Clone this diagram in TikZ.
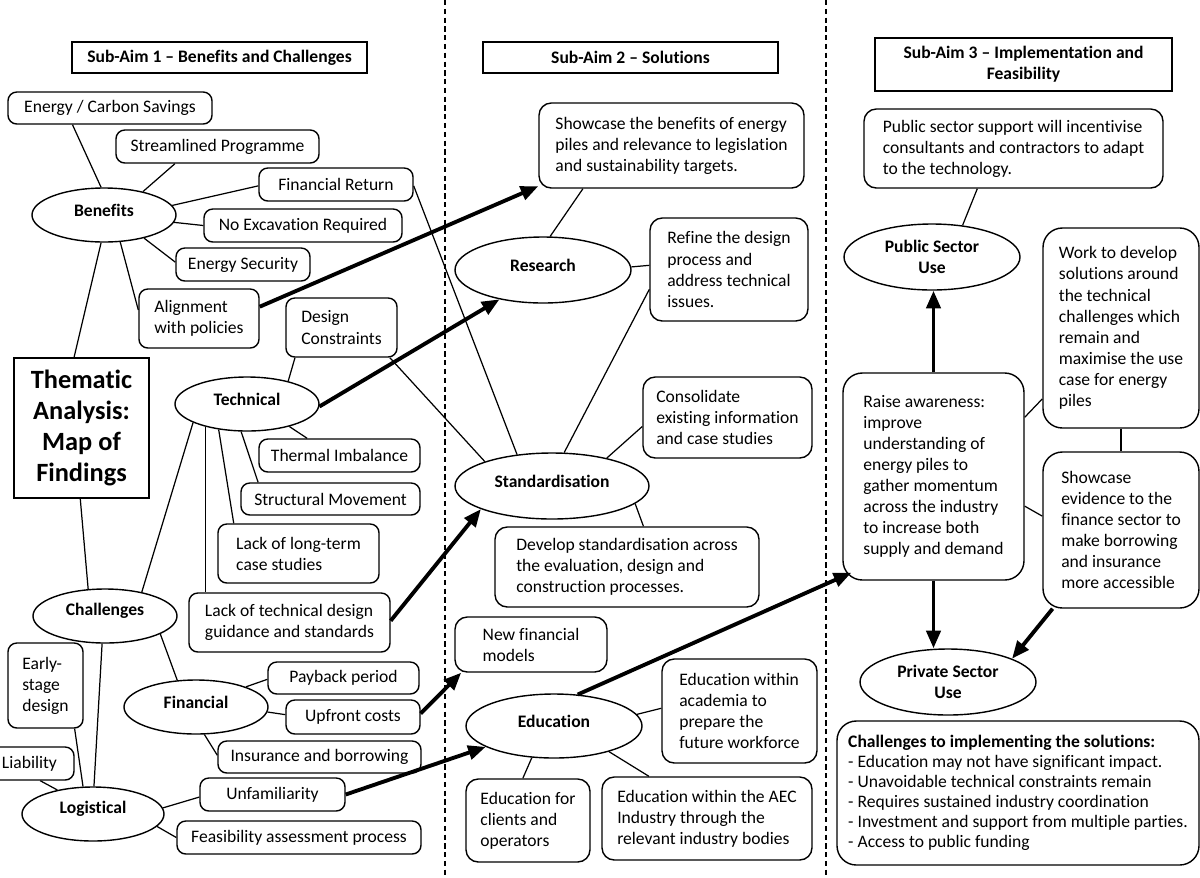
\documentclass[tikz,border=0pt]{standalone}
\usepackage{fontspec}
\setmainfont[Ligatures={NoCommon}]{Carlito}
\usetikzlibrary{shapes.geometric,arrows.meta,calc}
\newcommand{\rbox}[7][]{\node[bx,#1,minimum width={(#5-(#3))*0.02cm},minimum height={(#6-(#4))*0.02cm}] (#2) at ({((#3)+(#5))/2},{((#4)+(#6))/2}) {#7};}
\newcommand{\ovnode}[7][]{\node[ov,#1,minimum width={2*(#5)*0.02cm},minimum height={2*(#6)*0.02cm}] (#2) at (#3,#4) {#7};}
\begin{document}
\begin{tikzpicture}[x=0.02cm,y=-0.02cm,
  txt/.style={font=\fontsize{10}{12}\selectfont},
  bx/.style={draw, line width=0.8pt, rounded corners=5pt, align=left, inner xsep=3pt, inner ysep=2pt, txt},
  big/.style={rounded corners=11pt},
  mid/.style={rounded corners=7pt},
  ov/.style={draw, ellipse, line width=0.8pt, inner sep=0pt, align=center, font=\fontsize{10}{12}\selectfont\bfseries},
  lab/.style={font=\fontsize{10}{12}\selectfont\bfseries, yshift=0.1cm, inner sep=0pt},
  ttl/.style={sharp corners, align=center, font=\fontsize{10}{12}\selectfont\bfseries},
  ln/.style={line width=0.7pt},
  ar/.style={line width=2.2pt, -{Triangle[length=10pt,width=8pt]}},
  sepline/.style={line width=0.7pt, dash pattern=on 3pt off 2pt}]

\useasboundingbox (0,0) rectangle (1200,877);
\fill[white] (0,0) rectangle (1200,877);

% separators
\coordinate (s1t) at (445,0); \coordinate (s1b) at (445,877);
\coordinate (s2t) at (826,0); \coordinate (s2b) at (826,877);
\draw[sepline] (s1t) -- (s1b);
\draw[sepline] (s2t) -- (s2b);

% titles
\rbox[ttl]{t1}{72}{42}{367}{73}{Sub-Aim 1 – Benefits and Challenges}
\rbox[ttl]{t2}{483}{42}{778}{73}{Sub-Aim 2 – Solutions}
\rbox[ttl]{t3}{875}{38}{1172}{91}{Sub-Aim 3 – Implementation and\\Feasibility}

% ---------- column 1
\rbox{ecs}{8}{92}{212}{124}{Energy / Carbon Savings}
\rbox{sp}{116}{130}{319}{163}{Streamlined Programme}
\rbox{fr}{259}{168}{413}{201}{Financial Return}
\rbox{ne}{204}{209}{402}{242}{No Excavation Required}
\rbox{es}{176}{248}{310}{281}{Energy Security}
\rbox{al}{139}{289}{259}{348}{Alignment\\with policies}
\rbox{dc}{286}{298}{397}{357}{Design\\Constraints}
\ovnode[label={[lab]center:Benefits}]{ben}{104}{215}{72}{27}{}
\rbox[sharp corners, align=center, font=\fontsize{15}{17.6}\selectfont\bfseries]{them}{14}{358}{149}{498}{Thematic\\Analysis:\\Map of\\Findings}
\ovnode[label={[lab]center:Technical}]{tech}{247}{404}{72}{27}{}
\rbox{ti}{259}{439}{420}{472}{Thermal Imbalance}
\rbox{sm}{241}{483}{420}{515}{Structural Movement}
\rbox{lt}{218}{524}{379}{583}{Lack of long-term\\case studies}
\rbox{ltd}{189}{593}{390}{652}{Lack of technical design\\guidance and standards}
\ovnode[label={[lab]center:Challenges}]{chal}{105}{616}{72}{27}{}
\ovnode[label={[lab]center:Financial}]{fin}{196}{707}{72}{27}{}
\rbox{pp}{268}{662}{419}{694}{Payback period}
\rbox{uc}{286}{700}{420}{734}{Upfront costs}
\rbox{ib}{218}{741}{421}{773}{Insurance and borrowing}
\rbox{esd}{8}{643}{83}{728}{Early-\\stage\\design}
\rbox{li}{-15}{747}{74}{780}{Liability}
\ovnode[label={[lab]center:Logistical}]{log}{93}{814}{71}{27}{}
\rbox{un}{200}{778}{345}{811}{Unfamiliarity}
\rbox{fa}{177}{821}{421}{854}{Feasibility assessment process}

% ---------- column 2
\rbox[mid]{sc}{539}{103}{804}{188}{Showcase the benefits of energy\\piles and relevance to legislation\\and sustainability targets.}
\ovnode[label={[lab]center:Research}]{res}{543}{270}{88}{33}{}
\rbox[mid]{rf}{650}{218}{808}{321}{Refine the design\\process and\\address technical\\issues.}
\rbox[mid]{co}{643}{377}{812}{458}{Consolidate\\existing information\\and case studies}
\ovnode[label={[lab]center:Standardisation}]{std}{552}{486}{97}{33}{}
\rbox[mid]{dv}{495}{527}{759}{607}{Develop standardisation across\\the evaluation, design and\\construction processes.}
\rbox[mid]{nf}{455}{617}{607}{672}{New financial\\models}
\ovnode[label={[lab]center:Education}]{edu}{554}{726}{88}{32}{}
\rbox[mid]{ea}{662}{659}{817}{763}{Education within\\academia to\\prepare the\\future workforce}
\rbox[mid]{ec}{466}{779}{590}{862}{Education for\\clients and\\operators}
\rbox[mid]{aec}{602}{777}{812}{860}{Education within the AEC\\Industry through the\\relevant industry bodies}

% ---------- column 3
\rbox[mid]{ps}{864}{109}{1163}{188}{Public sector support will incentivise\\consultants and contractors to adapt\\to the technology.}
\ovnode{psu}{932}{257}{88}{33}{Public Sector\\Use}
\rbox[big]{wd}{1043}{228}{1199}{428}{Work to develop\\solutions around\\the technical\\challenges which\\remain and\\maximise the use\\case for energy\\piles}
\rbox[big]{ra}{843}{373}{1024}{580}{Raise awareness:\\improve\\understanding of\\energy piles to\\gather momentum\\across the industry\\to increase both\\supply and demand}
\rbox[big]{se}{1043}{452}{1199}{608}{Showcase\\evidence to the\\finance sector to\\make borrowing\\and insurance\\more accessible}
\ovnode{pvu}{948}{682}{88}{33}{Private Sector\\Use}
\rbox[big, font=\fontsize{10}{11.4}\selectfont]{ch}{837}{721}{1199}{865}{\textbf{Challenges to implementing the solutions:}\\- Education may not have significant impact.\\- Unavoidable technical constraints remain\\- Requires sustained industry coordination\\- Investment and support from multiple parties.\\- Access to public funding}

% ---------- connectors column 1
\draw[ln] (ben.96) -- (ecs.204);
\draw[ln] (ben.31) -- (sp.202);
\draw[ln] (ben.8) -- (fr.181);
\draw[ln] (ben.354) -- (ne.180);
\draw[ln] (ben.330) -- (es.178);
\draw[ln] (ben.301) -- (al.172);
\draw[ln] (ben.264) -- (them.96);
\draw[ln] (them.269) -- (chal.122);
\draw[ln] (fr.359) -- (std.138);
\draw[ln] (dc.328) -- (std.160);
\draw[ln] (dc.213) -- (tech.29);
\draw[ln] (tech.332) -- (ti.152);
\draw[ln] (tech.258) -- (sm.167);
\draw[ln] (tech.222) -- (lt.155);
\draw[ln] (tech.209) -- (tech.209 |- ltd.north);
\draw[ln] (tech.199) -- (chal.33);
\draw[ln] (chal.342) -- (fin.125);
\draw[ln] (chal.264) -- (log.88);
\draw[ln] (esd.304) -- (log.110);
\draw[ln] (li.302) -- (log.146);
\draw[ln] (fin.22) -- (pp.181);
\draw[ln] (fin.356) -- (uc.178);
\draw[ln] (fin.287) -- (ib.179);
\draw[ln] (log.5) -- (un.182);
\draw[ln] (log.349) -- (fa.180);
\draw[ar] (al.11) -- (sc.197);
\draw[ar] (tech.358) -- (res.214);
\draw[ar] (ltd.1) -- (std.198);
\draw[ar] (uc.3) -- (nf.202);
\draw[ar] (un.0) -- (edu.197);

% ---------- connectors column 2
\draw[ln] (res.78) -- (sc.206);
\draw[ln] (res.2) -- (rf.177);
\draw[ln] (std.70) -- (rf.194);
\draw[ln] (std.27) -- (co.186);
\draw[ln] (std.348) -- (dv.68);
\draw[ln] (edu.8) -- (ea.178);
\draw[ln] (edu.235) -- (ec.97);
\draw[ln] (edu.335) -- (aec.144);
\draw[ar] (edu.53) -- ($(ra.south west)+(9,-8)$);

% ---------- connectors column 3
\draw[ln] (ps.228) -- (psu.46);
\draw[ar] (ra.north) -- (ra.north |- psu.south);
\draw[ar] (ra.south) -- (ra.south |- pvu.north);
\draw[ln] (ra.33) -- (wd.222);
\draw[ln] (wd.south) -- (se.north);
\draw[ln] (ra.342) -- (se.170);
\draw[ar] (se.229) -- (pvu.20);
\end{tikzpicture}
\end{document}
